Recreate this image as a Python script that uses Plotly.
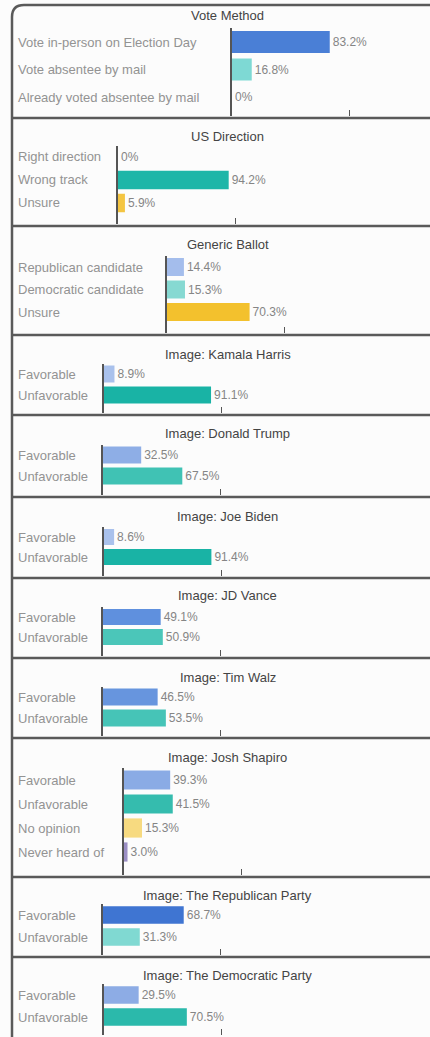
import plotly.graph_objects as go

W, H = 430, 1037

# ---------------- data ----------------
titles = [
    "Vote Method", "US Direction", "Generic Ballot",
    "Image: Kamala Harris", "Image: Donald Trump", "Image: Joe Biden",
    "Image: JD Vance", "Image: Tim Walz", "Image: Josh Shapiro",
    "Image: The Republican Party", "Image: The Democratic Party",
]
vote_method_cats = ["Vote in-person on Election Day", "Vote absentee by mail", "Already voted absentee by mail"]
vote_method_vals = [83.2, 16.8, 0]
direction_cats = ["Right direction", "Wrong track", "Unsure"]
direction_vals = [0, 94.2, 5.9]
ballot_cats = ["Republican candidate", "Democratic candidate", "Unsure"]
ballot_vals = [14.4, 15.3, 70.3]
fav_cats = ["Favorable", "Unfavorable"]
harris_vals = [8.9, 91.1]
trump_vals = [32.5, 67.5]
biden_vals = [8.6, 91.4]
vance_vals = [49.1, 50.9]
walz_vals = [46.5, 53.5]
shapiro_cats = ["Favorable", "Unfavorable", "No opinion", "Never heard of"]
shapiro_vals = [39.3, 41.5, 15.3, 3.0]
rep_party_vals = [68.7, 31.3]
dem_party_vals = [29.5, 70.5]
tick_values = [100]

categories = [vote_method_cats, direction_cats, ballot_cats, fav_cats, fav_cats, fav_cats,
              fav_cats, fav_cats, shapiro_cats, fav_cats, fav_cats]
values = [vote_method_vals, direction_vals, ballot_vals, harris_vals, trump_vals, biden_vals,
          vance_vals, walz_vals, shapiro_vals, rep_party_vals, dem_party_vals]

# ---------------- styles / layout ----------------
bar_colors = [
    ["#4a7fd6", "#7ed9d4", "#7ed9d4"],
    ["#a9c1ec", "#1eb6a8", "#f4c542"],
    ["#a4bdec", "#86d9d2", "#f3c12d"],
    ["#a9c1ec", "#19b3a5"],
    ["#8eaee6", "#40c2b4"],
    ["#a9c1ec", "#19b3a5"],
    ["#5f90de", "#4bc6b9"],
    ["#6795de", "#46c4b7"],
    ["#8aabe5", "#35bcae", "#f7da80", "#9b8fc4"],
    ["#3f75d2", "#80d9d2"],
    ["#8dace5", "#2bb9ab"],
]
panel_tops = [5, 118, 226, 335, 415, 497, 578, 658, 738, 877, 957]
panel_bottoms = panel_tops[1:] + [1037]
title_px = [16, 136, 245, 354, 433, 516, 595, 677, 757, 895, 975]
row0_px = [42, 157, 267, 374, 455, 537, 617, 697, 780, 915, 995]
row_step = [27.5, 23, 22.5, 21, 21, 20, 20, 21, 24, 22, 22]
axis_px = [232, 118, 167, 104, 103, 104, 103, 103, 124, 103, 104]
PX_PER_UNIT = 1.175
RIGHT_PX = 428
LEFT_BORDER = 12
LABEL_X = 16
TITLE_X = 228
FONT = "Liberation Sans, Arial, sans-serif"

fig = go.Figure()
annotations = []
shapes = []
layout = {}

for k in range(11):
    idx = k + 1
    xn = "x" if idx == 1 else f"x{idx}"
    yn = "y" if idx == 1 else f"y{idx}"
    cats = categories[k]
    vals = values[k]
    texts = ["0%" if v == 0 else f"{v:.1f}%" for v in vals]
    fig.add_trace(go.Bar(
        x=vals, y=cats, orientation="h", xaxis=xn, yaxis=yn,
        marker=dict(color=bar_colors[k], line=dict(width=0)),
        width=0.8, text=texts, textposition="outside",
        textfont=dict(size=12, color="#858585", family=FONT),
        constraintext="none", cliponaxis=False, showlegend=False,
        hoverinfo="skip",
    ))
    y0 = row0_px[k]
    s = row_step[k]
    ytop = y0 - s / 2
    yb = panel_bottoms[k] - 2
    ax = axis_px[k]
    layout["xaxis" if idx == 1 else f"xaxis{idx}"] = dict(
        domain=[ax / W, RIGHT_PX / W],
        range=[0, (RIGHT_PX - ax) / PX_PER_UNIT],
        anchor=yn, showgrid=False, zeroline=False, showline=False,
        tickvals=tick_values, ticks="inside", ticklen=6, tickwidth=1,
        tickcolor="#555555", showticklabels=False, fixedrange=True,
    )
    layout["yaxis" if idx == 1 else f"yaxis{idx}"] = dict(
        domain=[1 - yb / H, 1 - ytop / H],
        range=[(yb - y0) / s, -0.5],
        type="category", anchor=xn, showgrid=False, zeroline=False,
        showline=True, linecolor="#555555", linewidth=1.5,
        showticklabels=False, ticks="", fixedrange=True,
    )
    for i, c in enumerate(cats):
        annotations.append(dict(
            x=LABEL_X / W, xref="paper", y=i, yref=yn,
            text=c, showarrow=False, xanchor="left", yanchor="middle",
            font=dict(size=13, color="#939393", family=FONT),
        ))
    annotations.append(dict(
        x=TITLE_X / W, xref="paper", y=1 - title_px[k] / H, yref="paper",
        text=titles[k], showarrow=False, xanchor="center", yanchor="middle",
        font=dict(size=13, color="#444444", family=FONT),
    ))

# separators between panels
for t in panel_tops[1:]:
    shapes.append(dict(
        type="line", xref="paper", yref="paper",
        x0=LEFT_BORDER / W, x1=1, y0=1 - t / H, y1=1 - t / H,
        line=dict(color="#5a5a5a", width=2.5),
    ))

# outer frame with rounded top-left corner
lx = LEFT_BORDER / W
ty = 1 - panel_tops[0] / H
r_y = 12 / H
r_x = 12 / W
shapes.append(dict(
    type="path", xref="paper", yref="paper",
    path=f"M {lx},0 L {lx},{ty - r_y} Q {lx},{ty} {lx + r_x},{ty} L 1,{ty}",
    line=dict(color="#5a5a5a", width=2.5),
))

fig.update_layout(
    width=W, height=H, autosize=False,
    margin=dict(l=0, r=0, t=0, b=0),
    paper_bgcolor="#fcfcfc", plot_bgcolor="rgba(0,0,0,0)",
    annotations=annotations, shapes=shapes, showlegend=False,
    font=dict(family=FONT),
    **layout,
)

fig.write_html(
    "out.html",
    config={"displayModeBar": False},
    post_script="document.body.style.margin='0';document.body.style.overflow='hidden';",
)
